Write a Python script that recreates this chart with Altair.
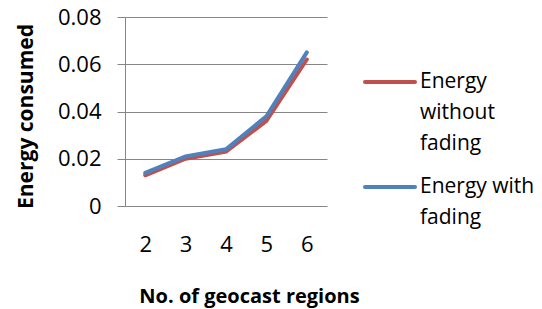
import altair as alt
import pandas as pd

regions = [2, 3, 4, 5, 6]
without_fading = [0.013, 0.020, 0.023, 0.036, 0.062]
with_fading = [0.014, 0.021, 0.024, 0.038, 0.065]
series_names = ["Energy without fading", "Energy with fading"]
legend_text = ["Energy\nwithout\nfading", "Energy with\nfading"]
colors = ["#C0504D", "#4F81BD"]

rows = []
for i, r in enumerate(regions):
    rows.append({"regions": r, "energy": without_fading[i], "series": series_names[0], "order": 0})
    rows.append({"regions": r, "energy": with_fading[i], "series": series_names[1], "order": 1})
df = pd.DataFrame(rows)

FONT = "Open Sans"
GRAY = "#868686"

lines = alt.Chart(df).mark_line(strokeWidth=4, strokeCap="round").encode(
    x=alt.X("regions:O", title="No. of geocast regions",
            scale=alt.Scale(paddingOuter=0.5),
            axis=alt.Axis(labelAngle=0, domain=False, ticks=False, labelPadding=28,
                          labelFontSize=22, labelFont=FONT, labelColor="#000",
                          titleFont=FONT, titleFontSize=20, titleFontWeight="bold",
                          titleX=124, titleY=90, titleBaseline="middle", titleAlign="center")),
    y=alt.Y("energy:Q", title="Energy consumed",
            scale=alt.Scale(domain=[0, 0.08], nice=False),
            axis=alt.Axis(values=[0, 0.02, 0.04, 0.06, 0.08], format="~g",
                          labelFontSize=22, labelFont=FONT, labelColor="#000", labelPadding=16,
                          tickSize=8, tickColor=GRAY, domainColor=GRAY, gridColor=GRAY,
                          titleFont=FONT, titleFontSize=21, titleFontWeight="bold",
                          titleAngle=270, titleX=-99, titleY=99,
                          titleBaseline="middle", titleAlign="center")),
    color=alt.Color("series:N", scale=alt.Scale(domain=series_names, range=colors), legend=None),
    order="order:Q",
    detail="series:N",
)

leg_df = pd.DataFrame({
    "series": series_names,
    "label": legend_text,
    "ly": [65, 170],
})

leg_rules = alt.Chart(leg_df).mark_rule(strokeWidth=4, strokeCap="round").encode(
    x=alt.value(240), x2=alt.value(290),
    y=alt.Y("ly:Q", scale=None),
    color=alt.Color("series:N", scale=alt.Scale(domain=series_names, range=colors), legend=None),
)
leg_text = alt.Chart(leg_df).mark_text(
    align="left", baseline="middle", lineBreak="\n", lineHeight=31,
    font=FONT, fontSize=21, color="#000",
).encode(
    x=alt.value(295),
    y=alt.Y("ly:Q", scale=None),
    text="label:N",
)

chart = alt.layer(lines, leg_rules, leg_text).properties(
    width=202, height=189,
    autosize=alt.AutoSizeParams(type="none"),
    padding={"left": 117, "top": 9, "right": 207, "bottom": 102},
).configure_view(stroke=None).configure_axis(grid=True)
chart = chart.configure_axisX(grid=False)

chart.save("out.html", embed_options={"renderer": "svg", "actions": False})
